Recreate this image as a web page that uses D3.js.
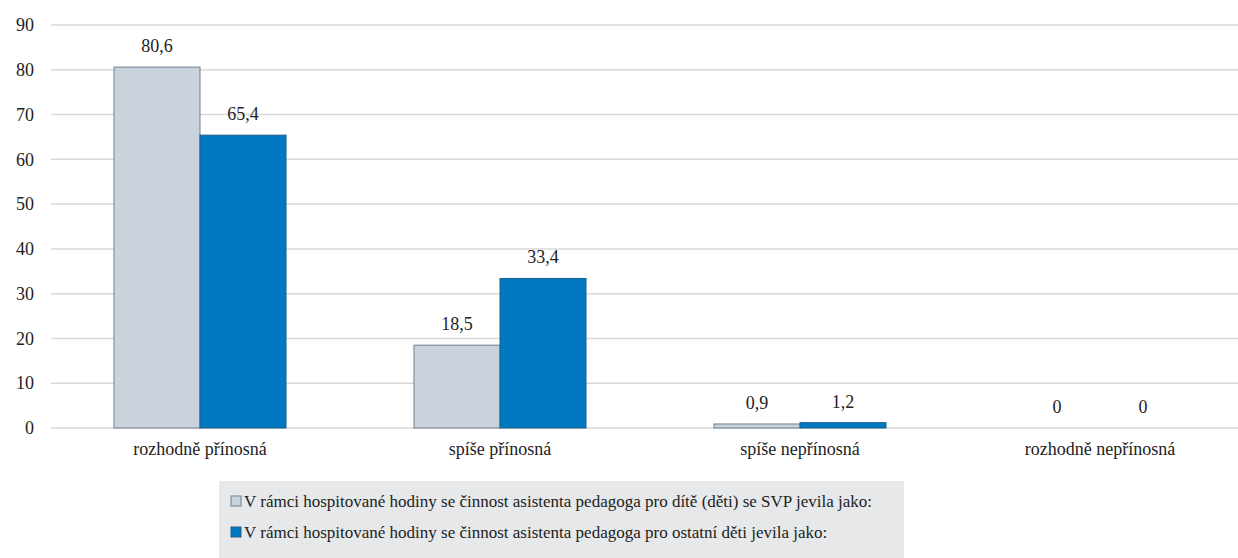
<!DOCTYPE html>
<html>
<head>
<meta charset="utf-8">
<script src="https://cdn.jsdelivr.net/npm/d3@7"></script>
<style>
  body { margin: 0; background: #fff; }
  svg text { font-family: "Liberation Serif", "DejaVu Serif", "Noto Serif", serif; }
</style>
</head>
<body>
<svg id="chart"></svg>
<script>
const width = 1238;
const height = 558;
const margin = {top: 25, right: -12, bottom: 130, left: 50};

// Data
const categories = ["rozhodně přínosná", "spíše přínosná", "spíše nepřínosná", "rozhodně nepřínosná"];
const seriesNames = [
  "V rámci hospitované hodiny se činnost asistenta pedagoga pro dítě (děti) se SVP jevila jako:",
  "V rámci hospitované hodiny se činnost asistenta pedagoga pro ostatní děti jevila jako:"
];
const svpValues = [80.6, 18.5, 0.9, 0];
const otherValues = [65.4, 33.4, 1.2, 0];
const yTicks = [0, 10, 20, 30, 40, 50, 60, 70, 80, 90];

const fills = ["#cad3dc", "#0079c1"];
const strokes = ["#6f8091", "#1f5f8f"];

const data = categories.map((c, i) => ({
  category: c,
  values: [svpValues[i], otherValues[i]]
}));

const svg = d3.select("#chart")
  .attr("width", width)
  .attr("height", height);

const innerWidth = width - margin.left - margin.right;
const innerHeight = height - margin.top - margin.bottom;

const g = svg.append("g")
  .attr("transform", `translate(${margin.left},${margin.top})`);

// Scales
const x = d3.scaleBand()
  .domain(categories)
  .range([0, innerWidth]);

const x1 = d3.scaleBand()
  .domain([0, 1])
  .range([0, x.bandwidth()])
  .paddingOuter(0.744)
  .paddingInner(0);

const y = d3.scaleLinear()
  .domain([0, 90])
  .range([innerHeight, 0]);

// Gridlines
g.selectAll(".grid")
  .data(yTicks)
  .enter()
  .append("line")
  .attr("x1", 1)
  .attr("x2", width - margin.left)
  .attr("y1", d => y(d))
  .attr("y2", d => y(d))
  .attr("stroke", "#d9d9d9")
  .attr("stroke-width", 1.5);

// Y axis
const yAxis = d3.axisLeft(y).tickValues(yTicks).tickSize(0).tickPadding(16);
g.append("g")
  .call(yAxis)
  .call(a => a.select(".domain").remove())
  .selectAll("text")
  .attr("font-size", "18px")
  .attr("fill", "#222");

// X axis labels
const xAxis = d3.axisBottom(x).tickSize(0).tickPadding(14);
g.append("g")
  .attr("transform", `translate(0, ${innerHeight})`)
  .call(xAxis)
  .call(a => a.select(".domain").remove())
  .selectAll("text")
  .attr("font-size", "18px")
  .attr("fill", "#222");

// Bars
const groups = g.selectAll(".cat")
  .data(data)
  .enter()
  .append("g")
  .attr("transform", d => `translate(${x(d.category)},0)`);

groups.selectAll("rect")
  .data(d => d.values.map((v, i) => ({v, i})))
  .enter()
  .filter(d => d.v > 0)
  .append("rect")
  .attr("x", d => x1(d.i))
  .attr("y", d => y(d.v))
  .attr("width", x1.bandwidth())
  .attr("height", d => innerHeight - y(d.v))
  .attr("fill", d => fills[d.i])
  .attr("stroke", d => strokes[d.i])
  .attr("stroke-width", 1);

// Value labels
groups.selectAll("text.val")
  .data(d => d.values.map((v, i) => ({v, i})))
  .enter()
  .append("text")
  .attr("class", "val")
  .attr("x", d => x1(d.i) + x1.bandwidth() / 2)
  .attr("y", d => y(d.v) - 15)
  .attr("text-anchor", "middle")
  .attr("font-size", "18px")
  .attr("fill", "#222")
  .text(d => String(d.v).replace(".", ","));

// Legend
const legend = svg.append("g")
  .attr("transform", "translate(219, 481)");

legend.append("rect")
  .attr("width", 685)
  .attr("height", 77)
  .attr("fill", "#e7e8ea");

seriesNames.forEach((name, i) => {
  const row = legend.append("g")
    .attr("transform", `translate(12, ${22 + i * 31})`);
  row.append("rect")
    .attr("x", 0)
    .attr("y", -7)
    .attr("width", 10)
    .attr("height", 10)
    .attr("fill", fills[i])
    .attr("stroke", strokes[i]);
  row.append("text")
    .attr("x", 13)
    .attr("y", 4)
    .attr("font-size", "17px")
    .attr("fill", "#222")
    .text(name);
});
</script>
</body>
</html>
